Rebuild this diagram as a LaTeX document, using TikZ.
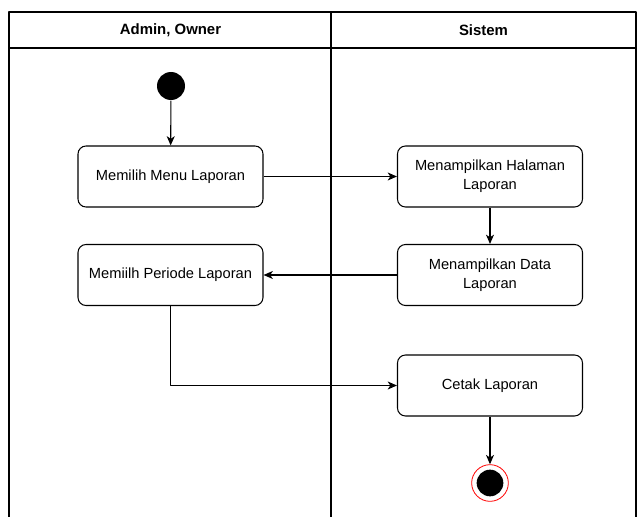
\documentclass[tikz,border=0pt]{standalone}
\usepackage{fontspec}
\setmainfont{Liberation Sans}
\usetikzlibrary{arrows.meta}
\begin{document}
\begin{tikzpicture}[x=0.75pt,y=-0.75pt,line join=round,>={Stealth[length=7pt,width=6pt,inset=2pt]},line width=0.8pt]
	\tikzset{aksi/.style={draw,rounded corners=6pt,minimum width=138.75pt,minimum height=45.75pt,align=center,font=\fontsize{11}{14}\selectfont,inner sep=2pt},
		kepala/.style={font=\bfseries\fontsize{11.2}{13}\selectfont}}
	\useasboundingbox (0,0) rectangle (637,517);
	% swimlane
	\draw (9,517)--(9,12)--(636,12)--(636,517);
	\draw (9,48)--(636,48);
	\draw (331,12)--(331,517);
	\node[kepala] (lajur1) at (170.5,30) {Admin, Owner};
	\node[kepala] (lajur2) at (483.5,30) {Sistem};
	% aktivitas
	\node[circle,fill=black,minimum size=21pt,inner sep=0pt] (mulai) at (171,86) {};
	\node[aksi] (menu) at (170.5,176.5) {Memilih Menu Laporan};
	\node[aksi] (periode) at (170.5,275) {Memiilh Periode Laporan};
	\node[aksi] (halaman) at (490,176.5) {Menampilkan Halaman\\Laporan};
	\node[aksi] (data) at (490,275) {Menampilkan Data\\Laporan};
	\node[aksi] (cetak) at (490,385.5) {Cetak Laporan};
	\node[circle,draw=red,line width=0.6pt,minimum size=27.5pt,inner sep=0pt] (selesai) at (490,483) {};
	\node[circle,fill=black,minimum size=20pt,inner sep=0pt] at (selesai) {};
	% alur
	\draw[->] (mulai)--(menu);
	\draw[->] (menu)--(halaman);
	\draw[->] (halaman)--(data);
	\draw[->] (data)--(periode);
	\draw[->] (periode.south)|-(cetak.west);
	\draw[->] (cetak)--(selesai);
\end{tikzpicture}
\end{document}
